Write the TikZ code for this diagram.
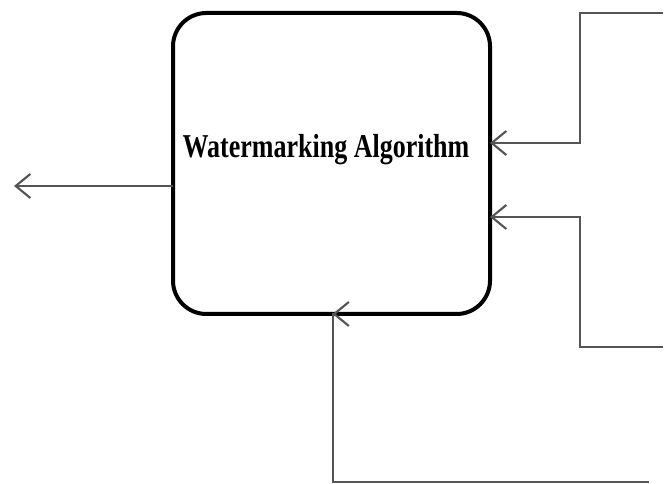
\documentclass[tikz,border=0pt]{standalone}
\usepackage{fontspec}
\setmainfont{Liberation Serif}
\usetikzlibrary{arrows.meta}
\definecolor{wire}{RGB}{85,85,85}
\newcommand{\algoname}{\scalebox{0.78}[1]{\bfseries Watermarking Algorithm}}

\begin{document}
\begin{tikzpicture}[x=0.75pt,y=-0.75pt,
    wm/.style={draw=black,line width=3pt,rounded corners=25pt,
      minimum width=237.75pt,minimum height=225.75pt,inner sep=0pt,outer sep=0pt},
    conn/.style={draw=wire,line width=1.6pt,
      -{Straight Barb[length=11pt,width=18pt,line width=1.6pt]}}]
    \useasboundingbox (0,0) rectangle (672,484);

    \node[wm] (algo) at (331.5,163.5) {};
    \node[font=\fontsize{25}{25}\selectfont] (algolabel) at (326,150) {\algoname};

    \coordinate (out) at (14,186);
    \coordinate (in1) at (663,13);
    \coordinate (k1) at (580,143);
    \coordinate (in2) at (663,347);
    \coordinate (k2) at (580,217);
    \coordinate (in3) at (649,482);
    \coordinate (k3) at (333,482);

    \draw[conn] (algo.west |- out) -- (out);
    \draw[conn] (in1) -| (k1) -- (k1 -| algo.east);
    \draw[conn] (in2) -| (k2) -- (k2 -| algo.east);
    \draw[conn] (in3) -- (k3) -- (k3 |- algo.south) -- ++(-0.5,0);
  \end{tikzpicture}
\end{document}
